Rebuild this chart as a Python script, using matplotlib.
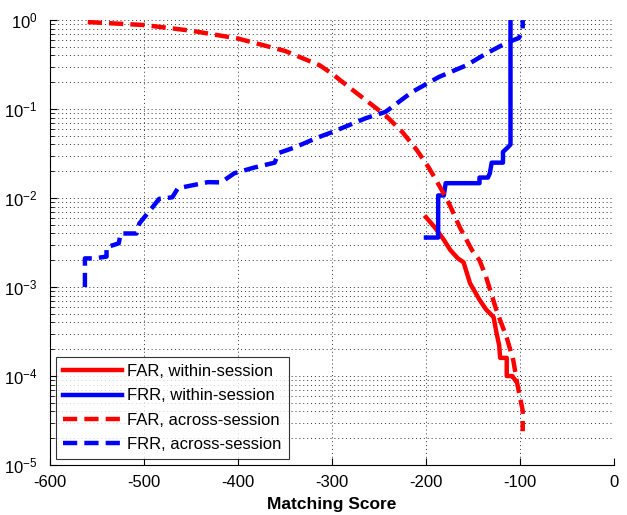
#!/usr/bin/env python3
"""FAR / FRR vs matching score, within- and across-session."""

import matplotlib
matplotlib.use("Agg")
import matplotlib.pyplot as plt
from matplotlib.ticker import LogLocator, NullFormatter, MultipleLocator

plt.rcParams["font.family"] = ["Liberation Sans", "DejaVu Sans"]
plt.rcParams["axes.unicode_minus"] = False

# ── data ─────────────────────────────────────────────────────────────────────
far_within_x = [-200, -190, -181, -174, -166, -160, -153, -143, -136, -128,
                -125, -122, -121, -114, -114, -110, -108, -105]
far_within_y = [6.1e-3, 4.6e-3, 3.4e-3, 2.6e-3, 2.1e-3, 1.9e-3, 1.1e-3, 7.2e-4,
                5.6e-4, 4.6e-4, 3.1e-4, 2.2e-4, 1.6e-4, 1.6e-4, 1.0e-4, 1.0e-4,
                1.0e-4, 9.0e-5]

frr_within_x = [-200, -187, -187, -181, -179, -143, -143, -134, -132, -130,
                -118, -118, -113, -110, -110]
frr_within_y = [3.6e-3, 3.6e-3, 1.07e-2, 1.07e-2, 1.47e-2, 1.47e-2, 1.7e-2,
                1.7e-2, 1.9e-2, 2.5e-2, 2.5e-2, 3.3e-2, 3.7e-2, 4.0e-2, 1.0]

far_across_x = [-560, -500, -450, -400, -350, -313, -300, -280, -264, -243,
                -225, -210, -197, -185, -175, -164, -151, -143, -136, -125,
                -114, -107, -103, -97, -97]
far_across_y = [0.95, 0.88, 0.76, 0.62, 0.45, 0.31, 0.25, 0.17, 0.126, 0.085,
                0.055, 0.035, 0.022, 0.0133, 0.0085, 0.0047, 0.0026, 0.002,
                0.0013, 5.5e-4, 2.7e-4, 1.5e-4, 8.4e-5, 4.1e-5, 2.4e-5]

frr_across_x = [-563, -563, -553, -540, -540, -527, -525, -508, -505, -491,
                -484, -470, -464, -432, -418, -404, -383, -361, -357, -340,
                -315, -300, -264, -243, -215, -186, -157, -136, -115, -101,
                -97, -97]
frr_across_y = [1.0e-3, 2.1e-3, 2.1e-3, 2.2e-3, 2.8e-3, 3.1e-3, 4.0e-3, 4.0e-3,
                5.2e-3, 7.9e-3, 9.8e-3, 1.02e-2, 1.29e-2, 1.51e-2, 1.5e-2,
                1.9e-2, 2.2e-2, 2.5e-2, 3.2e-2, 3.7e-2, 4.8e-2, 5.5e-2,
                7.9e-2, 9.3e-2, 0.155, 0.23, 0.31, 0.42, 0.55, 0.63, 0.77, 1.0]

# ── figure ───────────────────────────────────────────────────────────────────
fig = plt.figure(figsize=(6.27, 5.15), dpi=100)
ax = fig.add_axes([0.080, 0.097, 0.899, 0.864])

lw = 3.2
dash = (3.2, 1.6)
ax.plot(far_within_x, far_within_y, color="#ff0000", lw=lw,
        label="FAR, within-session")
ax.plot(frr_within_x, frr_within_y, color="#0000ff", lw=lw,
        label="FRR, within-session")
ax.plot(far_across_x, far_across_y, color="#ff0000", lw=lw, ls="--",
        dashes=dash, label="FAR, across-session")
ax.plot(frr_across_x, frr_across_y, color="#0000ff", lw=lw, ls="--",
        dashes=dash, label="FRR, across-session")

ax.set_yscale("log")
ax.set_xlim(-600, 0)
ax.set_ylim(1e-5, 1)
ax.xaxis.set_major_locator(MultipleLocator(100))
ax.yaxis.set_major_locator(LogLocator(base=10, numticks=10))
ax.yaxis.set_minor_locator(LogLocator(base=10, subs=range(2, 10), numticks=10))
ax.yaxis.set_minor_formatter(NullFormatter())

grid_style = dict(linestyle=(0, (1, 3)), color="#333333", linewidth=0.7)
ax.grid(which="major", axis="both", **grid_style)
ax.grid(which="minor", axis="y", **grid_style)
ax.set_axisbelow(True)

ax.tick_params(axis="both", which="both", direction="in", labelsize=12)
ax.tick_params(axis="x", which="major", length=5, pad=7)
ax.tick_params(axis="y", which="major", length=5, pad=9)
ax.tick_params(which="minor", length=3)
ax.spines[["top", "right"]].set_visible(False)

ax.set_xlabel("Matching Score", fontsize=12.5, fontweight="bold", labelpad=5)

leg = ax.legend(loc="lower left", fontsize=12, frameon=True, fancybox=False,
                edgecolor="black", handlelength=3.5, borderaxespad=0.35,
                labelspacing=0.55, handletextpad=0.3, borderpad=0.45)
leg.get_frame().set_linewidth(0.8)

fig.savefig("out.png", dpi=100)
plt.close()
